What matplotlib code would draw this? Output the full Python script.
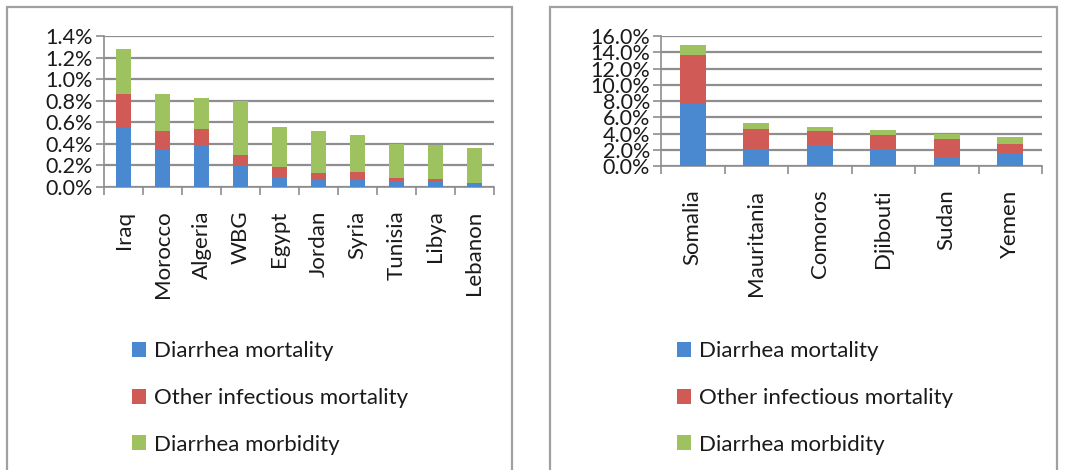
import numpy as np
import matplotlib.pyplot as plt
from matplotlib.patches import Rectangle
from matplotlib.ticker import FuncFormatter

# left panel: values in percent
countries_a = ["Iraq", "Morocco", "Algeria", "WBG", "Egypt", "Jordan", "Syria", "Tunisia", "Libya", "Lebanon"]
diarrhea_mort_a = [0.55, 0.34, 0.39, 0.195, 0.09, 0.075, 0.068, 0.053, 0.043, 0.028]
other_mort_a = [0.31, 0.18, 0.145, 0.105, 0.10, 0.055, 0.07, 0.027, 0.031, 0.01]
diarrhea_morb_a = [0.42, 0.345, 0.29, 0.50, 0.37, 0.385, 0.345, 0.315, 0.318, 0.325]

# right panel: values in percent
countries_b = ["Somalia", "Mauritania", "Comoros", "Djibouti", "Sudan", "Yemen"]
diarrhea_mort_b = [7.6, 2.15, 2.55, 2.15, 1.15, 1.65]
other_mort_b = [6.05, 2.35, 1.75, 1.7, 2.2, 1.05]
diarrhea_morb_b = [1.3, 0.75, 0.5, 0.55, 0.65, 0.85]

labels = ["Diarrhea mortality", "Other infectious mortality", "Diarrhea morbidity"]
colors = ["#4a88d0", "#d05a55", "#9ec25f"]

plt.rcParams['font.family'] = ['Lato', 'DejaVu Sans']
txt = "#1a1a1a"
grid_c = "#8e8e8e"

fig = plt.figure(figsize=(10.86, 4.70), dpi=100)

# panel borders
for x0, x1 in [(7, 512), (550, 1057)]:
    fig.patches.append(Rectangle((x0 / 1086, -0.05), (x1 - x0) / 1086, 1.05 - 7 / 470,
                                 transform=fig.transFigure, fill=False,
                                 edgecolor="#a0a0a0", linewidth=1.6))


def panel(rect, cats, series, ymax, ystep, bw, leg_x):
    ax = fig.add_axes(rect)
    x = np.arange(len(cats))
    bottom = np.zeros(len(cats))
    for vals, lab, c in zip(series, labels, colors):
        ax.bar(x, vals, bw, bottom=bottom, color=c, label=lab, zorder=3)
        bottom += np.array(vals)
    ax.set_xlim(-0.5, len(cats) - 0.5)
    ax.set_ylim(0, ymax)
    ax.set_yticks(np.arange(0, ymax + ystep / 2, ystep))
    ax.yaxis.set_major_formatter(FuncFormatter(lambda v, p: "%.1f%%" % v))
    ax.grid(axis="y", color=grid_c, linewidth=1.6, zorder=0)
    ax.set_xticks(x)
    ax.set_xticklabels(cats, rotation=90, fontsize=16, color=txt)
    ax.set_xticks(np.arange(-0.5, len(cats)), minor=True)
    ax.tick_params(axis="x", which="major", length=0, pad=17)
    ax.tick_params(axis="x", which="minor", length=6, color=grid_c, width=1.2)
    ax.tick_params(axis="y", length=6, color=grid_c, width=1.2, labelsize=15.5,
                   labelcolor=txt, pad=2)
    for s in ["top", "right"]:
        ax.spines[s].set_visible(False)
    for s in ["left", "bottom"]:
        ax.spines[s].set_color(grid_c)
        ax.spines[s].set_linewidth(1.2)
    ax.legend(loc="center left", bbox_to_anchor=(leg_x, 1 - 398 / 470), bbox_transform=fig.transFigure,
              frameon=False, fontsize=16, handlelength=0.65, handleheight=0.65,
              handletextpad=0.35, labelspacing=1.2, borderaxespad=0, borderpad=0,
              labelcolor=txt)
    return ax


panel([0.0958, 0.6021, 0.359, 0.3213], countries_a,
      [diarrhea_mort_a, other_mort_a, diarrhea_morb_a], 1.4, 0.2, 0.39, 132 / 1086)

panel([0.6087, 0.6468, 0.3508, 0.2766], countries_b,
      [diarrhea_mort_b, other_mort_b, diarrhea_morb_b], 16, 2, 0.41, 677 / 1086)

fig.savefig("out.png", dpi=100)
